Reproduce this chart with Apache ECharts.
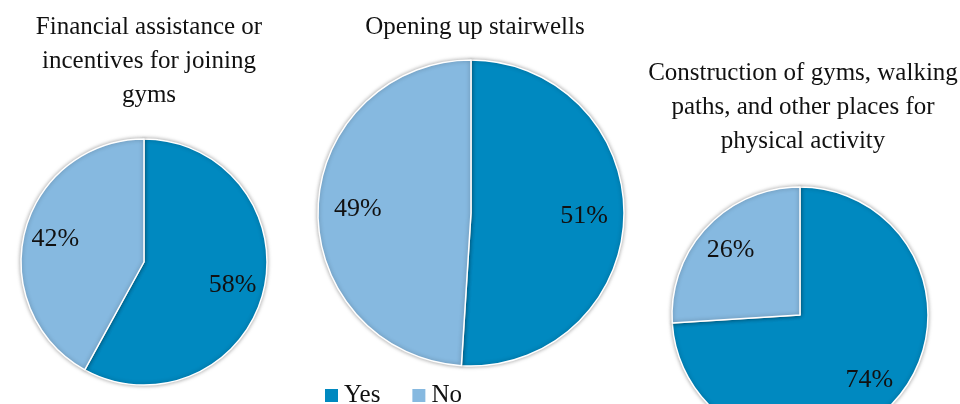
<!DOCTYPE html>
<html lang="en">
<head>
    <meta charset="UTF-8">
    <title>Yes / No pies</title>
    <script src="https://cdn.jsdelivr.net/npm/echarts@6/dist/echarts.min.js"></script>
    <style>
        html,body{ margin:0; padding:0; background:#fff; }
        #main{ width:960px; height:404px; }
    </style>
</head>
<body>
<div id="main"></div>
<script>
    // data
    var categories = ['Yes', 'No'];
    var titles = [
        'Financial assistance or\nincentives for joining\ngyms',
        'Opening up stairwells',
        'Construction of gyms, walking\npaths, and other places for\nphysical activity'
    ];
    var financialVals = [58, 42];
    var stairwellVals = [51, 49];
    var constructionVals = [74, 26];

    var colors = ['#0089c0', '#86b9e0'];
    var font = '"Liberation Serif", "DejaVu Serif", serif';

    // layout for each pie: center, radius, title position
    var pies = [
        { vals: financialVals, center: [144, 262], r: 123, titleX: 144, titleY: 5 },
        { vals: stairwellVals, center: [471, 213], r: 153, titleX: 470, titleY: 5 },
        { vals: constructionVals, center: [800, 315], r: 128, titleX: 798, titleY: 51 }
    ];

    var myChart = echarts.init(document.getElementById('main'));

    var title = [];
    var series = [];
    pies.forEach(function (p, i) {
        var data = categories.map(function (c, k) { return { name: c, value: p.vals[k] }; });
        title.push({
            text: titles[i],
            left: p.titleX,
            top: p.titleY,
            textAlign: 'center',
            textStyle: { fontFamily: font, fontSize: 25, fontWeight: 'normal', color: '#111', lineHeight: 34 }
        });
        // the slices
        series.push({
            type: 'pie',
            center: p.center,
            radius: [0, p.r],
            startAngle: 90,
            clockwise: true,
            silent: true,
            data: data,
            label: { show: false },
            labelLine: { show: false },
            itemStyle: {
                borderColor: '#fff',
                borderWidth: 1.5,
                shadowBlur: 4,
                shadowColor: 'rgba(0,0,0,0.35)'
            }
        });
        // transparent ring only used to place the labels at ~0.72 r
        series.push({
            type: 'pie',
            center: p.center,
            radius: [p.r * 0.44, p.r],
            startAngle: 90,
            clockwise: true,
            silent: true,
            data: data,
            itemStyle: { color: 'rgba(0,0,0,0)' },
            label: {
                show: true,
                position: 'inside',
                formatter: '{c}%',
                fontFamily: font,
                fontSize: 26,
                color: '#111'
            },
            labelLine: { show: false }
        });
    });

    var option = {
        color: colors,
        animation: false,
        title: title,
        legend: {
            data: categories,
            left: 318,
            top: 378,
            icon: 'rect',
            itemWidth: 15,
            itemHeight: 15,
            itemGap: 30,
            textStyle: { fontFamily: font, fontSize: 25, color: '#111' }
        },
        series: series
    };
    myChart.setOption(option);
</script>
</body>
</html>
